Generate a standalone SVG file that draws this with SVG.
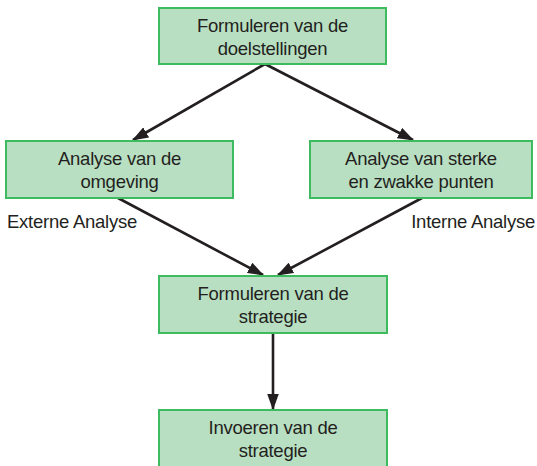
<svg xmlns="http://www.w3.org/2000/svg" width="537" height="466" viewBox="0 0 537 466">
<style>
.box{fill:#b9dfc3;stroke:#3dbb5e;stroke-width:2}
.t{font-family:"Liberation Sans",Arial,sans-serif;font-size:18.5px;letter-spacing:-0.25px;fill:#231f20}
.c{text-anchor:middle}
.e{stroke:#231f20;stroke-width:2.6;fill:none;marker-end:url(#ah)}
</style>
<defs>
<marker id="ah" viewBox="0 0 14 10" refX="13" refY="5" markerWidth="6.3" markerHeight="4.5" orient="auto" markerUnits="strokeWidth">
<path d="M0,0 L14,5 L0,10 z" fill="#231f20"/>
</marker>
</defs>
<rect width="537" height="466" fill="#ffffff"/>
<g id="connectors">
<line class="e" x1="265" y1="64" x2="133" y2="140"/>
<line class="e" x1="265" y1="64" x2="413" y2="140"/>
<line class="e" x1="118" y1="198" x2="263" y2="275"/>
<line class="e" x1="422" y1="198" x2="278" y2="275"/>
<line class="e" x1="273" y1="333" x2="273" y2="409"/>
</g>
<g id="n1">
<rect class="box" x="159" y="8" width="227" height="56"/>
<text class="t c" x="272.5" y="32">Formuleren van de</text>
<text class="t c" x="272.5" y="55">doelstellingen</text>
</g>
<g id="n2">
<rect class="box" x="6" y="141" width="227" height="57"/>
<text class="t c" x="119.5" y="165">Analyse van de</text>
<text class="t c" x="119.5" y="188">omgeving</text>
</g>
<g id="n3">
<rect class="box" x="310" y="141" width="222" height="57"/>
<text class="t c" x="421" y="165">Analyse van sterke</text>
<text class="t c" x="421" y="188">en zwakke punten</text>
</g>
<g id="n4">
<rect class="box" x="159" y="276" width="228" height="57"/>
<text class="t c" x="273" y="300">Formuleren van de</text>
<text class="t c" x="273" y="323">strategie</text>
</g>
<g id="n5">
<rect class="box" x="159" y="410" width="228" height="60"/>
<text class="t c" x="273" y="434">Invoeren van de</text>
<text class="t c" x="273" y="457">strategie</text>
</g>
<g id="labels">
<text class="t" x="7" y="228">Externe Analyse</text>
<text class="t" x="535" y="228" text-anchor="end">Interne Analyse</text>
</g>
</svg>
